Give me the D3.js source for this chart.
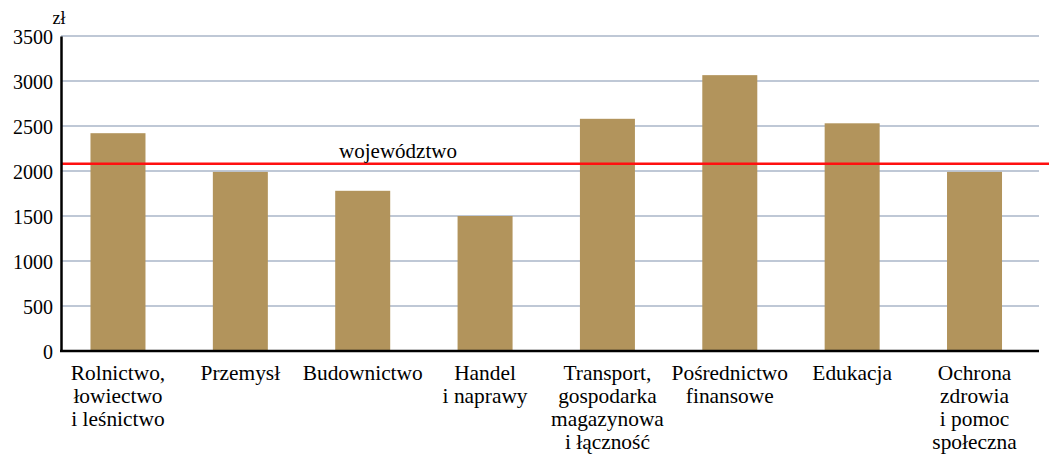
<!DOCTYPE html>
<html>
<head>
<meta charset="utf-8">
<script src="https://cdn.jsdelivr.net/npm/d3@7"></script>
<style>
  body { margin: 0; background: #fff; }
</style>
</head>
<body>
<div class="chart"></div>
<script>
var categories = [
  ["Rolnictwo,", "łowiectwo", "i leśnictwo"],
  ["Przemysł"],
  ["Budownictwo"],
  ["Handel", "i naprawy"],
  ["Transport,", "gospodarka", "magazynowa", "i łączność"],
  ["Pośrednictwo", "finansowe"],
  ["Edukacja"],
  ["Ochrona", "zdrowia", "i pomoc", "społeczna"]
];
var values = [2420, 1990, 1780, 1500, 2580, 3065, 2530, 1990];
var yTicks = [0, 500, 1000, 1500, 2000, 2500, 3000, 3500];
var regionValue = 2080;
var regionLabel = "województwo";
var unitLabel = "zł";

var serif = "Liberation Serif";

function drawChart(){
    var w = 1049, h = 458;
    var margin = {top: 36, right: 10, bottom: 107, left: 61};

    var svg = d3.select("div.chart")
              .append("svg")
              .attr("width", w)
              .attr("height", h)
              .style("font-family", serif);

    var y = d3.scaleLinear()
              .domain([0, 3500])
              .range([h - margin.bottom, margin.top]);

    var x = d3.scaleBand()
              .domain(d3.range(categories.length))
              .range([56.8, 1035.7])
              .padding(0);

    var barW = 55;

    //gridlines
    svg.selectAll(".grid")
        .data(yTicks.slice(1))
        .enter()
        .append("line")
          .attr("x1", margin.left)
          .attr("x2", 1039)
          .attr("y1", d => y(d))
          .attr("y2", d => y(d))
          .attr("stroke", "#aab6c8")
          .attr("stroke-width", 1.5);

    //bars
    svg.selectAll(".bar")
        .data(values)
        .enter()
        .append("rect")
          .attr("x", (d, i) => x(i) + x.bandwidth()/2 - barW/2)
          .attr("y", d => y(d))
          .attr("width", barW)
          .attr("height", d => y(0) - y(d))
          .attr("fill", "#b2945c");

    //region average line
    svg.append("line")
        .attr("x1", margin.left)
        .attr("x2", w)
        .attr("y1", y(regionValue))
        .attr("y2", y(regionValue))
        .attr("stroke", "#ff1010")
        .attr("stroke-width", 2.5);

    svg.append("text")
        .attr("x", 398)
        .attr("y", y(regionValue) - 6)
        .attr("text-anchor", "middle")
        .attr("font-size", 21)
        .attr("fill", "#000")
        .style("font-family", serif)
        .text(regionLabel);

    //y axis
    var yAxis = d3.axisLeft(y).tickValues(yTicks).tickFormat(d3.format("d")).tickSize(0).tickPadding(8);
    var gy = svg.append("g")
        .attr("transform", `translate(${margin.left},0)`)
        .call(yAxis);
    gy.select(".domain").attr("stroke", "#000").attr("stroke-width", 2.5);
    gy.selectAll("text")
        .attr("dy", "0.35em")
        .attr("fill", "#000")
        .style("font-family", serif)
        .style("font-size", "20px");

    svg.append("text")
        .attr("x", 59)
        .attr("y", 24)
        .attr("text-anchor", "middle")
        .attr("font-size", 18)
        .attr("fill", "#000")
        .style("font-family", serif)
        .text(unitLabel);

    //x axis line
    svg.append("line")
        .attr("x1", margin.left - 1)
        .attr("x2", 1039)
        .attr("y1", y(0))
        .attr("y2", y(0))
        .attr("stroke", "#000")
        .attr("stroke-width", 2.5);

    //category labels
    var lab = svg.selectAll(".cat")
        .data(categories)
        .enter()
        .append("text")
          .attr("text-anchor", "middle")
          .attr("font-size", 21.4)
          .attr("fill", "#000")
          .style("font-family", serif)
          .attr("x", (d, i) => x(i) + x.bandwidth()/2)
          .attr("y", 380);
    lab.selectAll("tspan")
        .data(d => d)
        .enter()
        .append("tspan")
          .attr("x", function(){ return d3.select(this.parentNode).attr("x"); })
          .attr("dy", (d, i) => i === 0 ? 0 : 23)
          .text(d => d);
}

drawChart();
</script>
</body>
</html>
